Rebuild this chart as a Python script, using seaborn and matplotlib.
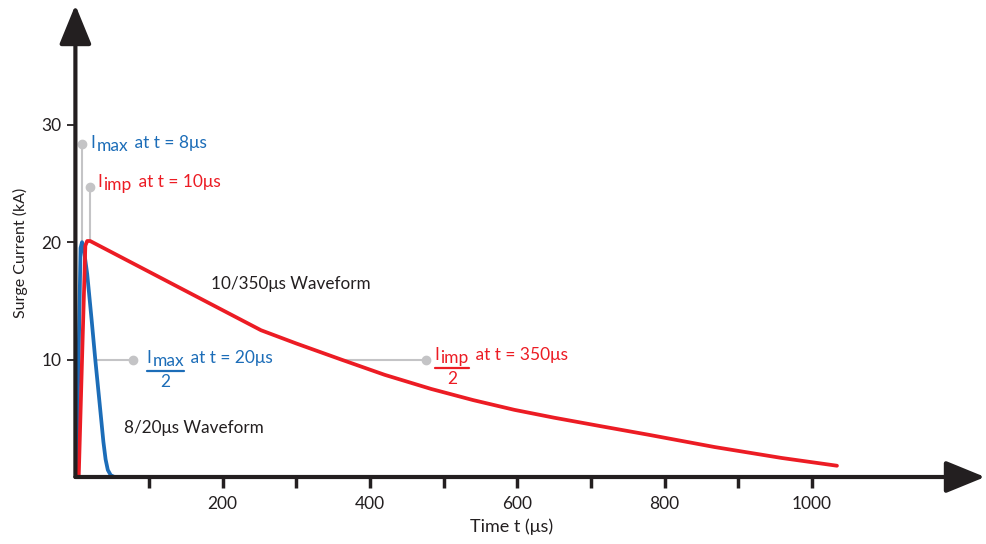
import numpy as np
import pandas as pd
import matplotlib
matplotlib.use("Agg")
import matplotlib.pyplot as plt
import seaborn as sns

# 8/20us waveform (time in us, current in kA)
t_820 = [1, 4, 7, 9, 11, 16, 22, 27, 33, 38, 41, 44, 48, 53, 68]
i_820 = [0, 9, 19.5, 20, 19.6, 17.3, 13.4, 10, 6.2, 3.0, 1.5, 0.6, 0.15, 0, 0]

# 10/350us waveform
t_10350 = [4.5, 9, 13.5, 16, 20, 252, 300, 361, 420, 483, 540,
           596, 650, 714, 778, 868, 959, 1034]
i_10350 = [0, 10, 19.7, 20.1, 20.1, 12.5, 11.37, 10.0, 8.7, 7.5, 6.55,
           5.72, 5.05, 4.32, 3.6, 2.55, 1.62, 0.96]

x_ticks = [100, 200, 300, 400, 500, 600, 700, 800, 900, 1000]
x_labels = ["", "200", "", "400", "", "600", "", "800", "", "1000"]
y_ticks = [10, 20, 30]

BLUE = "#1c6db8"
RED = "#ec1c24"
GRAY = "#c4c4c6"
INK = "#231f20"
FS = 12.5

sns.set_theme(style="white")
plt.rcParams["font.family"] = ["Lato", "DejaVu Sans"]

df = pd.concat([
    pd.DataFrame({"t": t_820, "i": i_820, "wave": "8/20"}),
    pd.DataFrame({"t": t_10350, "i": i_10350, "wave": "10/350"}),
])

fig = plt.figure(figsize=(9.87, 5.44), dpi=100)
ax = fig.add_axes([75.4 / 987, 67 / 544, 909.6 / 987, 472 / 544])

sns.lineplot(data=df, x="t", y="i", hue="wave", palette={"8/20": BLUE, "10/350": RED},
             hue_order=["8/20", "10/350"], lw=2.7, legend=False, sort=False, ax=ax)
for line in ax.lines:
    line.set_solid_joinstyle("round")

ax.set_xlim(0, 1235)
ax.set_ylim(0, 40.2)
for s in ax.spines.values():
    s.set_visible(False)

# axes with arrow heads
arrow = dict(arrowstyle="-|>,head_length=1.1,head_width=0.45", lw=3, color=INK,
             mutation_scale=22, shrinkA=0, shrinkB=0)
ax.annotate("", xy=(1, 0), xytext=(0, 0), xycoords="axes fraction", arrowprops=arrow)
ax.annotate("", xy=(0, 1), xytext=(0, 0), xycoords="axes fraction", arrowprops=arrow)

ax.set_xticks(x_ticks)
ax.set_xticklabels(x_labels)
ax.set_yticks(y_ticks)
ax.tick_params(axis="x", direction="out", length=8, width=2.5, color=INK, labelsize=12.5,
               labelcolor=INK, pad=6, bottom=True)
ax.tick_params(axis="y", direction="out", length=6, width=1.3, color=INK, labelsize=12.5,
               labelcolor=INK, pad=4, left=True)
ax.set_xlabel("Time t (μs)", fontsize=13, color=INK)
ax.set_ylabel("Surge Current (kA)", fontsize=11.5, color=INK)
ax.xaxis.set_label_coords(0.479, -0.087)
ax.yaxis.set_label_coords(-0.052, 0.475)


def sub_label(x, y, sub, rest, color):
    # "I" + lowered subscript + rest of the text, all at the same size
    t1 = ax.text(x, y, "I", color=color, fontsize=FS, va="baseline")
    t2 = ax.annotate(sub, xy=(1, 0), xycoords=t1, xytext=(0.6, -2.2),
                     textcoords="offset points", color=color, fontsize=FS, va="bottom")
    ax.annotate(rest, xy=(1, 0), xycoords=t2, xytext=(1.5, 2.2),
                textcoords="offset points", color=color, fontsize=FS, va="bottom")
    return t1, t2


# peak markers
ax.plot([9, 9], [20, 28.4], color=GRAY, lw=1.5, zorder=1)
ax.plot(9, 28.4, "o", color=GRAY, ms=6, zorder=1)
ax.plot([19.5, 19.5], [20.2, 24.7], color=GRAY, lw=1.5, zorder=1)
ax.plot(19.5, 24.7, "o", color=GRAY, ms=6, zorder=1)
sub_label(21, 28.0, "max", " at t = 8μs", BLUE)
sub_label(30, 24.7, "imp", " at t = 10μs", RED)

# half-value markers
ax.plot([27, 78], [10, 10], color=GRAY, lw=1.5, zorder=1)
ax.plot(78, 10, "o", color=GRAY, ms=6, zorder=1)
ax.plot([360, 476], [10, 10], color=GRAY, lw=1.5, zorder=1)
ax.plot(476, 10, "o", color=GRAY, ms=6, zorder=1)
fracs = [
    sub_label(97, 9.75, "max", " at t = 20μs", BLUE) + (BLUE,),
    sub_label(488, 10.0, "imp", " at t = 350μs", RED) + (RED,),
]

ax.text(184.6, 16.0, "10/350μs Waveform", color=INK, fontsize=12.3, va="baseline")
ax.text(65.7, 3.77, "8/20μs Waveform", color=INK, fontsize=12.3, va="baseline")

# fraction bars and denominators sized from the rendered numerators
fig.canvas.draw()
inv = ax.transData.inverted()
for t1, t2, color in fracs:
    x0 = inv.transform((t1.get_window_extent().x0, 0))[0]
    x1 = inv.transform((t2.get_window_extent().x1, 0))[0]
    yb = t1.get_position()[1] - 0.72
    ax.plot([x0, x1], [yb, yb], color=color, lw=1.6)
    ax.text((x0 + x1) / 2, yb - 0.9, "2", color=color, fontsize=FS, ha="center", va="center")

fig.savefig("out.png", dpi=100)
